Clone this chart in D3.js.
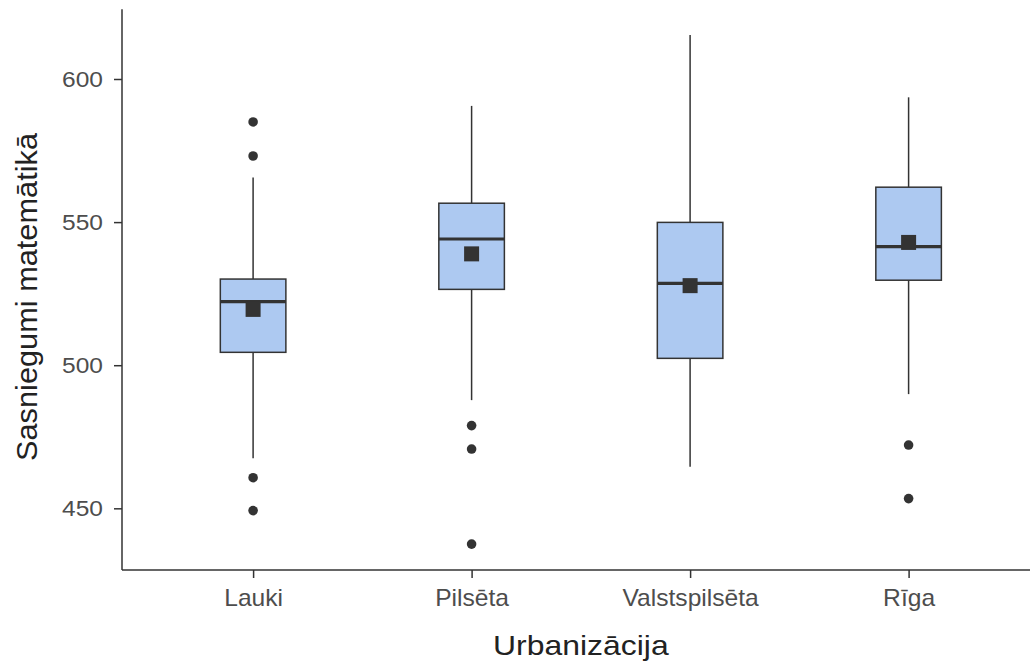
<!DOCTYPE html>
<html><head><meta charset="utf-8">
<script src="https://cdn.jsdelivr.net/npm/d3@7"></script>
<style>body{margin:0;background:#fff}svg{display:block}text{font-family:"Liberation Sans",Arial,sans-serif}</style>
</head><body>
<svg id="c" width="1030" height="664"></svg>
<script>
const categories = ["Lauki", "Pilsēta", "Valstspilsēta", "Rīga"];
const q1 = [504.5, 526.5, 502.4, 529.7];
const median = [522.2, 544.1, 528.6, 541.4];
const q3 = [530.1, 556.6, 549.9, 562.2];
const whiskerLow = [467.5, 487.8, 464.5, 489.9];
const whiskerHigh = [565.6, 590.6, 615.4, 593.6];
const means = [519.5, 538.9, 527.8, 542.9];
const outliers = [[585.0, 573.1, 460.7, 449.2], [478.9, 470.7, 437.5], [], [472.1, 453.4]];
const yTicks = [450, 500, 550, 600];

(function () {
const svg = d3.select("#c");
const pLeft = 122, pTop = 9.3, pBottom = 570;
const x = d3.scaleLinear().domain([0.4, categories.length + 0.6]).range([pLeft, pLeft + 4.2 * 218.5]);
const y = d3.scaleLinear().domain([428.45, 624.35]).range([pBottom, pTop]);
const boxW = x(1.3) - x(1);
const dark = "#333333";

const data = categories.map((c, i) => ({c, i: i + 1, q1: q1[i], med: median[i], q3: q3[i], lo: whiskerLow[i], hi: whiskerHigh[i], mean: means[i], out: outliers[i]}));

const g = svg.append("g");
g.selectAll(".wh").data(data).join("line")
  .attr("x1", d => x(d.i)).attr("x2", d => x(d.i))
  .attr("y1", d => y(d.hi)).attr("y2", d => y(d.q3))
  .attr("stroke", dark).attr("stroke-width", 1.5);
g.selectAll(".wl").data(data).join("line")
  .attr("x1", d => x(d.i)).attr("x2", d => x(d.i))
  .attr("y1", d => y(d.q1)).attr("y2", d => y(d.lo))
  .attr("stroke", dark).attr("stroke-width", 1.5);
g.selectAll(".box").data(data).join("rect")
  .attr("x", d => x(d.i) - boxW / 2).attr("width", boxW)
  .attr("y", d => y(d.q3)).attr("height", d => y(d.q1) - y(d.q3))
  .attr("fill", "#adc9f1").attr("stroke", dark).attr("stroke-width", 1.5);
g.selectAll(".med").data(data).join("line")
  .attr("x1", d => x(d.i) - boxW / 2).attr("x2", d => x(d.i) + boxW / 2)
  .attr("y1", d => y(d.med)).attr("y2", d => y(d.med))
  .attr("stroke", dark).attr("stroke-width", 3.2);
data.forEach(d => {
  g.append("g").selectAll("circle").data(d.out).join("circle")
    .attr("cx", x(d.i)).attr("cy", v => y(v)).attr("r", 4.8).attr("fill", dark);
});
const ms = 15;
g.selectAll(".mean").data(data).join("rect")
  .attr("x", d => x(d.i) - ms / 2).attr("y", d => y(d.mean) - ms / 2)
  .attr("width", ms).attr("height", ms).attr("fill", dark);

const yAxis = svg.append("g").attr("transform", `translate(${pLeft},0)`)
  .call(d3.axisLeft(y).tickValues(yTicks).tickSize(8).tickPadding(11).tickFormat(d3.format("d")));
const xAxis = svg.append("g").attr("transform", `translate(0,${pBottom})`)
  .call(d3.axisBottom(x).tickValues(categories.map((c, i) => i + 1)).tickSize(8).tickPadding(12).tickFormat(v => categories[v - 1]));
[yAxis, xAxis].forEach(a => {
  a.select(".domain").attr("stroke", dark).attr("stroke-width", 1.5);
  a.selectAll(".tick line").attr("stroke", dark).attr("stroke-width", 1.5);
});
// tick labels: slightly wide face, emulated by horizontal stretch
yAxis.selectAll(".tick text").attr("fill", "#4d4d4d").style("font-size", "22.5px")
  .attr("x", null).attr("dy", "0.34em")
  .attr("transform", "translate(-19,0) scale(1.09,1)");
xAxis.selectAll(".tick text").attr("fill", "#4d4d4d").style("font-size", "23px")
  .attr("y", null).attr("dy", "0.71em")
  .attr("transform", "translate(0,20) scale(1.07,1)");
yAxis.select(".domain").attr("d", `M0,${pTop}V${pBottom}`);
xAxis.select(".domain").attr("d", `M${pLeft},0H1030`);

svg.append("text").attr("text-anchor", "middle")
  .attr("transform", `translate(${x(2.5)},655) scale(1.12,1)`)
  .attr("fill", "#222").style("font-size", "28.5px").text("Urbanizācija");
svg.append("text").attr("transform", `translate(37,297) rotate(-90) scale(1.06,1)`)
  .attr("text-anchor", "middle").attr("fill", "#222").style("font-size", "29px").text("Sasniegumi matemātikā");
})();
</script>
</body></html>
